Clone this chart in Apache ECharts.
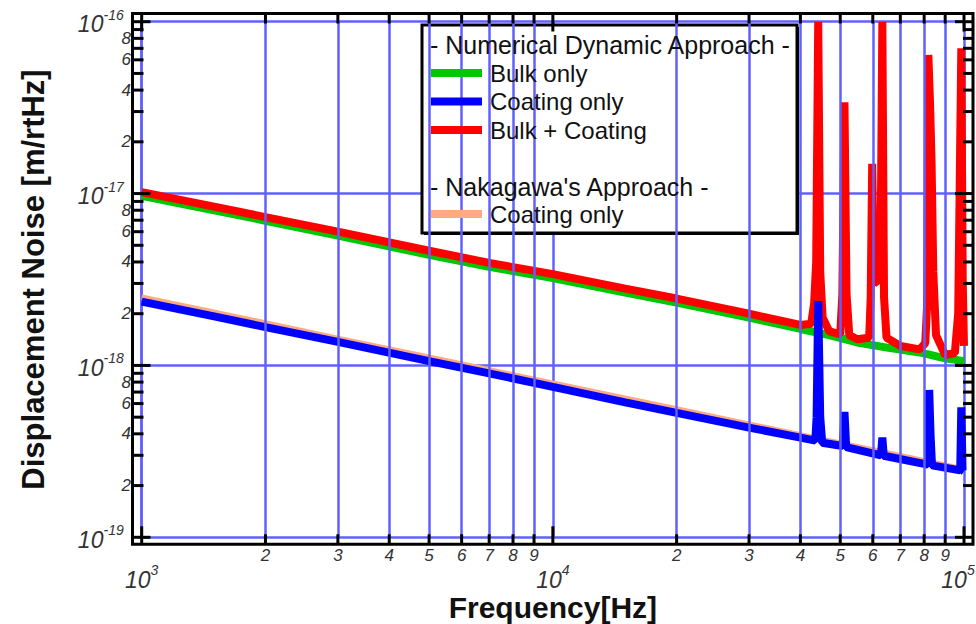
<!DOCTYPE html>
<html><head><meta charset="utf-8">
<script src="https://cdn.jsdelivr.net/npm/echarts@6/dist/echarts.min.js"></script>
<style>html,body{margin:0;padding:0;background:#fff}#c{width:976px;height:624px}</style>
</head><body><div id="c"></div>
<script>
// ---------------- data ----------------
const bulkFreq = [1000,1500,2000,3000,5000,7000,10000,15000,20000,30000,40000,47000,55000,65000,78000,90000,100000];
const bulkVal  = [9.7e-18,8.0e-18,6.95e-18,5.7e-18,4.4e-18,3.75e-18,3.22e-18,2.65e-18,2.32e-18,1.9e-18,1.63e-18,1.5e-18,1.36e-18,1.27e-18,1.19e-18,1.1e-18,1.06e-18];

const coatFreq = [1000,1500,2000,3000,5000,7000,10000,15000,20000,30000,40000,43500,43800,44200,44700,45200,50700,51200,51700,62800,63300,63800,81700,82300,82900,83600,97900,98500,99200,100000];
const coatVal  = [2.35e-18,1.93e-18,1.67e-18,1.37e-18,1.06e-18,9.0e-19,7.5e-19,6.1e-19,5.3e-19,4.35e-19,3.8e-19,3.65e-19,5e-19,2.37e-18,5e-19,3.55e-19,3.4e-19,5.36e-19,3.35e-19,3.0e-19,3.8e-19,2.98e-19,2.65e-19,7.2e-19,4e-19,2.62e-19,2.45e-19,5.7e-19,2.45e-19,2.42e-19];

const totalFreq = [1000,1500,2000,3000,5000,7000,10000,15000,20000,30000,40000,42500,43200,43700,44200,44700,45300,47000,50000,50600,51200,51800,52600,55000,58800,59300,59800,60400,62600,63300,63900,64800,70000,78000,80500,81300,81900,82700,83400,84200,85500,90000,95000,96800,98500,99300,100000];
const totalVal  = [1.02e-17,8.4e-18,7.3e-18,6.0e-18,4.65e-18,3.95e-18,3.4e-18,2.8e-18,2.45e-18,2.0e-18,1.72e-18,1.75e-18,2.3e-18,4e-18,1e-16,3.5e-18,1.9e-18,1.58e-18,1.52e-18,2.6e-18,3.4e-17,2.6e-18,1.5e-18,1.42e-18,1.45e-18,2.5e-18,1.49e-17,3e-18,3.2e-18,1e-16,2.5e-18,1.45e-18,1.3e-18,1.24e-18,1.35e-18,2.2e-18,6.4e-17,3.3e-17,1.5e-17,3.5e-18,1.5e-18,1.15e-18,1.18e-18,2e-18,7e-17,3e-18,1.3e-18];

const nakaFreq = [1000,2000,3000,5000,10000,20000,30000,50000,70000,100000];
const nakaVal  = [2.5e-18,1.77e-18,1.44e-18,1.12e-18,7.9e-19,5.6e-19,4.57e-19,3.54e-19,2.99e-19,2.5e-19];

const seriesNames = ['Bulk only','Coating only','Bulk + Coating','Coating only (Nakagawa)'];
const legendHeader1 = '- Numerical Dynamic Approach -';
const legendHeader2 = "- Nakagawa's Approach -";
const xTitle = 'Frequency[Hz]';
const yTitle = 'Displacement Noise [m/rtHz]';

// axis ranges and tick values
const xMin = 1000, xMax = 100000, yMin = 1e-19, yMax = 1e-16;
const xDecades = [1000, 10000];
const yDecades = [1e-19, 1e-18, 1e-17];
const minorMult = [2,3,4,5,6,7,8,9];
const xMinorLabels = ['2','3','4','5','6','7','8','9'];
const yMinorLabelMult = [2,4,6,8];

// ---------------- chart ----------------
const FONT = "'Liberation Sans', Arial, Helvetica, sans-serif";
const GRID_BLUE = '#6060ff';
const LABEL_GRAY = '#333';
const pairs = (f, v) => f.map((x, i) => [x, v[i]]);

const xMinorVals = [], yMinorVals = [];
xDecades.forEach(d => minorMult.forEach(m => xMinorVals.push(d * m)));
yDecades.forEach(d => minorMult.forEach(m => yMinorVals.push(d * m)));

const richLabel = {
  b: {fontSize: 23, fontStyle: 'italic', fontFamily: FONT, color: LABEL_GRAY, verticalAlign: 'bottom'},
  s: {fontSize: 14, fontStyle: 'italic', fontFamily: FONT, color: LABEL_GRAY, verticalAlign: 'top', lineHeight: 28},
  p: {width: 12, fontSize: 14}
};
const powLabel = v => '{b|10}{s|' + Math.round(Math.log10(v)) + '}';
const powLabelX = v => powLabel(v) + (v >= xMax ? '{p| }' : '');

const chart = echarts.init(document.getElementById('c'), null, {renderer: 'svg', width: 976, height: 624});

const gridMarkData = [];
xMinorVals.forEach(v => gridMarkData.push({xAxis: v}));
yMinorVals.forEach(v => gridMarkData.push({yAxis: v}));

const lineSeries = (name, f, v, color, width, z) => ({
  name, type: 'line', data: pairs(f, v), showSymbol: false, symbol: 'none',
  lineStyle: {color, width, join: 'bevel', cap: 'butt'}, itemStyle: {color},
  z, silent: true, clip: true
});

const option = {
  animation: false,
  backgroundColor: '#fff',
  grid: {left: 141.7, right: 12, top: 21.7, bottom: 86.7, outerBoundsMode: 'none', containLabel: false},
  xAxis: {
    type: 'log', logBase: 10, min: xMin, max: xMax,
    axisLine: {show: false}, axisTick: {show: false},
    splitLine: {show: true, lineStyle: {color: GRID_BLUE, width: 2.5}},
    axisLabel: {margin: 26, formatter: powLabelX, rich: richLabel},
    name: xTitle, nameLocation: 'middle', nameGap: 55, nameMoveOverlap: false,
    nameTextStyle: {fontSize: 30, fontWeight: 'bold', fontFamily: FONT, color: '#111'}
  },
  yAxis: {
    type: 'log', logBase: 10, min: yMin, max: yMax,
    axisLine: {show: false}, axisTick: {show: false},
    splitLine: {show: true, lineStyle: {color: GRID_BLUE, width: 2.5}},
    axisLabel: {margin: 18, formatter: powLabel, rich: richLabel},
    name: yTitle, nameLocation: 'middle', nameGap: 93, nameMoveOverlap: false,
    nameTextStyle: {fontSize: 31, fontWeight: 'bold', fontFamily: FONT, color: '#111'}
  },
  legend: [{
    data: seriesNames.slice(0, 3), orient: 'vertical', left: 431, top: 61, padding: 0,
    itemWidth: 51, itemHeight: 8, itemGap: 4.5, icon: 'rect', selectedMode: false, z: 6,
    textStyle: {fontSize: 24, fontFamily: FONT, color: '#111', lineHeight: 24, padding: [0, 0, 0, 3]}
  }, {
    data: [seriesNames[3]], formatter: 'Coating only', orient: 'vertical', left: 431, top: 202, padding: 0,
    itemWidth: 51, itemHeight: 8, itemGap: 4.5, icon: 'rect', selectedMode: false, z: 6,
    textStyle: {fontSize: 24, fontFamily: FONT, color: '#111', lineHeight: 24, padding: [0, 0, 0, 3]}
  }],
  series: [
    {
      name: '_grid', type: 'line', data: [[xMin, yMin]], showSymbol: false, symbol: 'none',
      lineStyle: {width: 0, opacity: 0}, silent: true, z: 1,
      markLine: {
        silent: true, symbol: ['none', 'none'], animation: false,
        label: {show: false}, emphasis: {disabled: true},
        lineStyle: {color: GRID_BLUE, width: 2.5, type: 'solid'},
        data: gridMarkData
      }
    },
    lineSeries(seriesNames[0], bulkFreq, bulkVal, '#00c800', 8, 3),
    lineSeries(seriesNames[2], totalFreq, totalVal, '#ff0000', 8, 3),
    lineSeries(seriesNames[3], nakaFreq, nakaVal, '#ffaa80', 5, 3),
    lineSeries(seriesNames[1], coatFreq, coatVal, '#0000ff', 8, 3)
  ]
};
chart.setOption(option);

// ---------------- frame, ticks, minor labels, legend box (placed through the axes) ----------------
const px = v => chart.convertToPixel({xAxisIndex: 0}, v);
const py = v => chart.convertToPixel({yAxisIndex: 0}, v);
const L = px(xMin), R = px(xMax), T = py(yMax), B = py(yMin);
const fL = L - 9.2, fR = R + 9, fT = T - 8.2, fB = B + 7;

const g = [];
// legend box (shadow + box)
g.push({type: 'rect', z: 3.4, silent: true, shape: {x: 424, y: 27, width: 375, height: 208}, style: {fill: '#000'}});
g.push({type: 'rect', z: 3.5, silent: true, shape: {x: 422, y: 25, width: 375, height: 208}, style: {fill: '#fff', stroke: '#000', lineWidth: 3}});
g.push({type: 'text', z: 7, silent: true, x: 430, y: 45, style: {text: legendHeader1, font: '25px ' + FONT, fill: '#111', textAlign: 'left', textVerticalAlign: 'middle'}});
g.push({type: 'text', z: 7, silent: true, x: 430, y: 187, style: {text: legendHeader2, font: '25px ' + FONT, fill: '#111', textAlign: 'left', textVerticalAlign: 'middle'}});

// frame
g.push({type: 'rect', z: 10, silent: true, shape: {x: fL, y: fT, width: fR - fL, height: fB - fT}, style: {fill: 'none', stroke: '#000', lineWidth: 3}});

const tick = (x1, y1, x2, y2) => g.push({type: 'line', z: 10, silent: true, shape: {x1, y1, x2, y2}, style: {stroke: '#000', lineWidth: 3}});
const xMajors = xDecades.concat([xMax]);
const yMajors = yDecades.concat([yMax]);
xMajors.forEach(v => { const x = px(v); tick(x, fB, x, fB - 18); tick(x, fT, x, fT + 18); });
xMinorVals.forEach(v => { const x = px(v); tick(x, fB, x, fB - 10); tick(x, fT, x, fT + 10); });
yMajors.forEach(v => { const y = py(v); tick(fL, y, fL + 18, y); tick(fR, y, fR - 18, y); });
yMinorVals.forEach(v => { const y = py(v); tick(fL, y, fL + 11, y); tick(fR, y, fR - 10, y); });

// minor tick labels
xDecades.forEach(d => minorMult.forEach((m, i) => {
  g.push({type: 'text', z: 10, silent: true, x: px(d * m), y: fB + 11,
    style: {text: xMinorLabels[i], font: 'italic 17px ' + FONT, fill: LABEL_GRAY, textAlign: 'center', textVerticalAlign: 'middle'}});
}));
yDecades.forEach(d => yMinorLabelMult.forEach(m => {
  g.push({type: 'text', z: 10, silent: true, x: fL - 1.5, y: py(d * m),
    style: {text: String(m), font: 'italic 17px ' + FONT, fill: LABEL_GRAY, textAlign: 'right', textVerticalAlign: 'middle'}});
}));

chart.setOption({graphic: {elements: g}});
</script>
</body></html>
